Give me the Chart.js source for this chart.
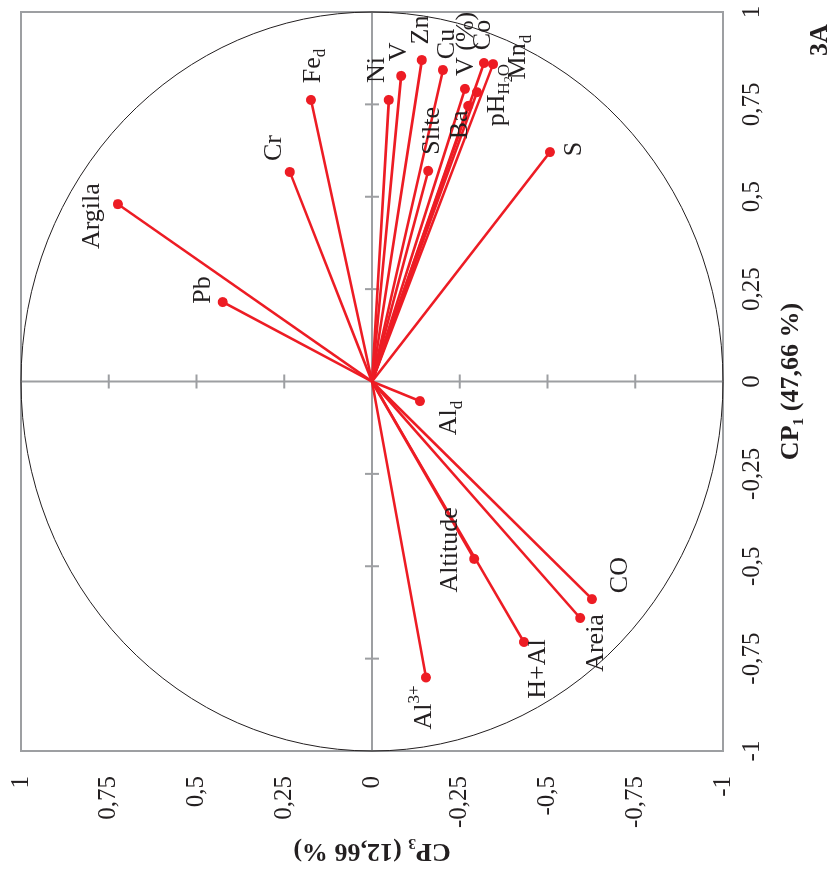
<!DOCTYPE html>
<html>
<head>
<meta charset="utf-8">
<script src="https://cdn.jsdelivr.net/npm/chart.js@4.4.0/dist/chart.umd.min.js"></script>
<style>
html, body { margin: 0; padding: 0; background: #fff; overflow: hidden; }
/* the figure is drawn upright, then turned a quarter left like the original */
#wrap { position: absolute; left: 0; top: 0; width: 872px; height: 835px;
  transform-origin: 0 0; transform: translate(0px, 872px) rotate(-90deg); }
</style>
</head>
<body>
<div id="wrap"><canvas id="pca" width="872" height="835"></canvas></div>
<script>
// loadings (CP1 horizontal, CP3 vertical)
const variables = ['Argila', 'Pb', 'Cr', 'Fe_d', 'Ni', 'V', 'Zn', 'Cu', 'V (%)', 'Co', 'Mn_d',
  'pH_H2O', 'Ba', 'Silte', 'S', 'Al_d', 'Altitude', 'CO', 'Areia', 'H+Al', 'Al3+'];
const cp1 = [0.480, 0.215, 0.567, 0.762, 0.762, 0.827, 0.870, 0.843, 0.792, 0.862, 0.859,
  0.783, 0.746, 0.570, 0.621, -0.053, -0.480, -0.589, -0.640, -0.705, -0.801];
const cp3 = [0.724, 0.425, 0.234, 0.174, -0.048, -0.083, -0.142, -0.202, -0.265, -0.319, -0.345,
  -0.299, -0.274, -0.160, -0.507, -0.137, -0.291, -0.627, -0.593, -0.433, -0.154];
const axisTicks = [-1, -0.75, -0.5, -0.25, 0, 0.25, 0.5, 0.75, 1];

const RED = 'rgb(237, 28, 36)';
const INK = '#231f20';
const GREY = '#9d9fa2';
const SERIF = '"Liberation Serif", "Times New Roman", serif';

// label text pieces: [text, level] (0 normal, 1 subscript, 2 sub-subscript, -1 superscript)
const labelParts = {
  'Fe_d': [['Fe', 0], ['d', 1]],
  'Mn_d': [['Mn', 0], ['d', 1]],
  'Al_d': [['Al', 0], ['d', 1]],
  'pH_H2O': [['pH', 0], ['H', 1], ['2', 2], ['O', 1]],
  'Al3+': [['Al', 0], ['3+', -1]]
};
// where each label sits relative to its point, in px
const labelOffset = {
  'Argila': [-12, -26], 'Pb': [12, -20], 'Cr': [24, -16], 'Fe_d': [34, 2], 'Ni': [30, -12],
  'V': [24, -2], 'Zn': [30, -1], 'Cu': [26, 4], 'V (%)': [45, 1], 'Co': [28, -1],
  'Mn_d': [7, 25], 'pH_H2O': [-3, 20], 'Ba': [-19, -8], 'Silte': [40, 4], 'S': [3, 24],
  'Al_d': [-17, 29], 'Altitude': [9, -24], 'CO': [24, 28], 'Areia': [-25, 16],
  'H+Al': [-27, 14], 'Al3+': [-30, -2]
};
const levelStyle = { '0': [26, 0], '1': [17, 8], '2': [12, 12], '-1': [17, -10] };

function fmt(v) {
  return String(v).replace('.', ',');
}

function drawRich(ctx, name, cx, cy) {
  const parts = labelParts[name] || [[name, 0]];
  let total = 0;
  parts.forEach(p => {
    ctx.font = levelStyle[p[1]][0] + 'px ' + SERIF;
    total += ctx.measureText(p[0]).width;
  });
  let x = cx - total / 2;
  parts.forEach(p => {
    const st = levelStyle[p[1]];
    ctx.font = st[0] + 'px ' + SERIF;
    ctx.fillText(p[0], x, cy + st[1]);
    x += ctx.measureText(p[0]).width;
  });
}

const frame = {
  id: 'frame',
  beforeDatasetsDraw(chart) {
    const { ctx, chartArea: a, scales: { x, y } } = chart;
    const x0 = x.getPixelForValue(0), y0 = y.getPixelForValue(0);
    ctx.save();
    ctx.strokeStyle = GREY;
    ctx.lineWidth = 2;
    ctx.beginPath();
    ctx.moveTo(a.left, y0); ctx.lineTo(a.right, y0);
    ctx.moveTo(x0, a.top); ctx.lineTo(x0, a.bottom);
    axisTicks.forEach(v => {
      if (v === 0 || Math.abs(v) === 1) return;
      const px = x.getPixelForValue(v), py = y.getPixelForValue(v);
      ctx.moveTo(px, y0 - 7); ctx.lineTo(px, y0 + 7);
      ctx.moveTo(x0 - 7, py); ctx.lineTo(x0 + 7, py);
    });
    ctx.stroke();
    ctx.strokeRect(a.left, a.top, a.width, a.height);
    ctx.strokeStyle = INK;
    ctx.lineWidth = 1;
    ctx.beginPath();
    ctx.ellipse(x0, y0, x.getPixelForValue(1) - x0, y0 - y.getPixelForValue(1), 0, 0, Math.PI * 2);
    ctx.stroke();
    ctx.restore();
  },
  afterDraw(chart) {
    const { ctx, scales: { x, y } } = chart;
    ctx.save();
    ctx.fillStyle = INK;
    ctx.textBaseline = 'middle';
    variables.forEach((name, i) => {
      const off = labelOffset[name];
      drawRich(ctx, name, x.getPixelForValue(cp1[i]) + off[0], y.getPixelForValue(cp3[i]) + off[1]);
    });
    ctx.font = 'bold 26px ' + SERIF;
    ctx.textAlign = 'center';
    ctx.fillText('3A', 832, 820);
    ctx.restore();
  }
};

const tickFont = { family: SERIF, size: 25 };
const titleFont = { family: SERIF, size: 26, weight: 'bold' };

new Chart(document.getElementById('pca'), {
  type: 'scatter',
  data: {
    datasets: variables.map((name, i) => ({
      label: name,
      data: [{ x: 0, y: 0 }, { x: cp1[i], y: cp3[i] }],
      showLine: true,
      borderColor: RED,
      backgroundColor: RED,
      borderWidth: 2.6,
      pointRadius: [0, 5],
      pointHoverRadius: [0, 5],
      pointBorderWidth: 0
    }))
  },
  options: {
    responsive: false,
    animation: false,
    layout: { padding: { top: 21, right: 12, left: 0, bottom: 0 } },
    plugins: { legend: { display: false }, tooltip: { enabled: false } },
    scales: {
      x: {
        type: 'linear', position: 'bottom', min: -1, max: 1,
        afterBuildTicks: s => { s.ticks = axisTicks.map(v => ({ value: v })); },
        afterFit: s => { s.height = 112; s.paddingLeft = 0; s.paddingRight = 0; },
        grid: { display: false, drawTicks: false },
        border: { display: false },
        ticks: { padding: 14, color: INK, font: tickFont, maxRotation: 0, autoSkip: false, callback: fmt },
        title: { display: true, text: 'CP\u2081 (47,66 %)', color: INK, font: titleFont, padding: { top: 0, bottom: 28 } }
      },
      y: {
        type: 'linear', position: 'left', min: -1, max: 1,
        afterBuildTicks: s => { s.ticks = axisTicks.map(v => ({ value: v })); },
        afterFit: s => { s.width = 121; s.paddingTop = 0; s.paddingBottom = 0; },
        grid: { display: false, drawTicks: false },
        border: { display: false },
        ticks: { padding: 25, color: INK, font: tickFont, autoSkip: false, callback: fmt },
        title: { display: true, text: 'CP\u2083 (12,66 %)', color: INK, font: titleFont, padding: { top: 6, bottom: 0 } }
      }
    }
  },
  plugins: [frame]
});
</script>
</body>
</html>
